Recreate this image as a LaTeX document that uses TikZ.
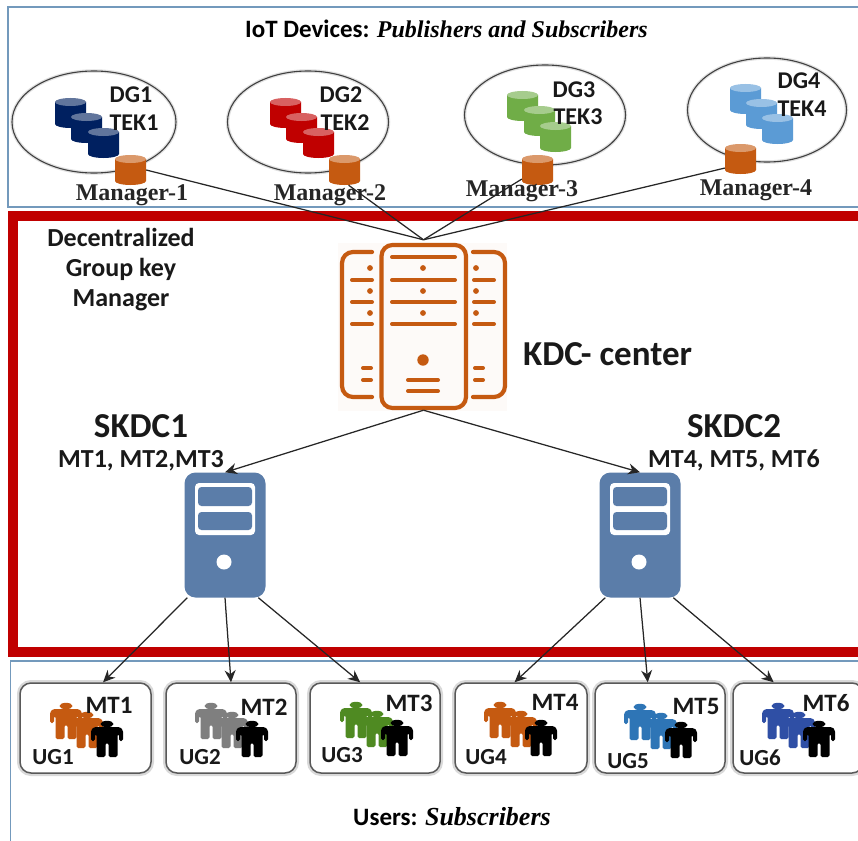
\documentclass[tikz,border=0pt]{standalone}
\usepackage{fontspec}
\setmainfont{Carlito}
\newfontfamily\serf{Liberation Serif}
\usetikzlibrary{shapes.geometric,arrows.meta}
\definecolor{frameblue}{HTML}{7399BC}
\definecolor{framered}{HTML}{C00000}
\definecolor{burnt}{HTML}{C55A11}
\definecolor{srv}{HTML}{5B7DA9}
\definecolor{navy}{HTML}{002060}
\definecolor{grn}{HTML}{70AD47}
\definecolor{lblue}{HTML}{5B9BD5}
\definecolor{grp}{HTML}{7F7F7F}
\definecolor{dgreen}{HTML}{4F8A22}
\definecolor{mblue}{HTML}{2E75B6}
\definecolor{dblue}{HTML}{2F4FA5}
\newcommand\fs[1]{\fontsize{#1}{#1}\selectfont}
% cylinder: name, left, top, colour
\newcommand\cyl[4]{%
  \fill[#4] (#2,#3+4) -- (#2,#3+26) arc[start angle=180,end angle=0,x radius=15.5,y radius=4] -- (#2+31,#3+4) -- cycle;
  \fill[#4!62!white] (#2+15.5,#3+4) ellipse[x radius=15.5,y radius=4];
  \node[cylbox] (#1) at (#2+15.5,#3+15) {};
}
% person: left, top, colour
\newcommand\person[3]{%
  \begin{scope}[shift={(#1,#2)}]
  \fill[#3] (16,3) ellipse[x radius=6.5,y radius=3.2];
  \fill[#3,rounded corners=1.6pt] (0,20)--(0,9)--(3,6)--(29,6)--(32,9)--(32,20)--(28,20)--(28,13)--(26.5,13)--(26.5,36)--(17.5,36)--(17.5,22)--(14.5,22)--(14.5,36)--(5.5,36)--(5.5,13)--(4,13)--(4,20)--cycle;
  \end{scope}
}
\newcommand\grp[3]{\person{#1}{#2}{#3}\person{#1+21}{#2+9}{#3}\person{#1+41}{#2+18}{black}}
% server: name, centre x
\newcommand\servericon[2]{%
  \node[srvbox] (#1) at (#2,535) {};
  \fill[white,rounded corners=4pt] (#2-30,483) rectangle (#2+30,535);
  \fill[srv,rounded corners=3.5pt] (#2-27,487) rectangle (#2+27,506);
  \fill[srv,rounded corners=3.5pt] (#2-27,512) rectangle (#2+27,530);
  \fill[white] (#2-1,562) circle[radius=7.5];
}
\tikzset{
  x=1pt,y=-1pt,
  outerbox/.style={draw=frameblue,line width=1.3pt},
  cylbox/.style={rectangle,minimum width=31pt,minimum height=30pt,inner sep=0pt},
  srvbox/.style={rectangle,fill=srv,rounded corners=11pt,minimum width=81pt,minimum height=125pt,inner sep=0pt},
  oval/.style={ellipse,draw=black!75,line width=1.1pt,inner sep=0pt,preaction={draw=black!12,line width=3.5pt}},
  ugbox/.style={rectangle,draw=black!65,line width=1.5pt,rounded corners=11pt,fill=white,minimum height=90pt,inner sep=0pt,preaction={draw=black!15,line width=6pt}},
  link/.style={draw=black!85,line width=1.25pt},
  arrowlink/.style={link,-{Stealth[length=12pt,width=11pt]}},
  lab/.style={font=\bfseries\fs{24},text=black!90,inner sep=0pt},
  big/.style={font=\bfseries\fs{35},text=black!90,inner sep=0pt},
  mgr/.style={font=\serf\bfseries\fs{24},text=black!85,inner sep=0pt},
  head/.style={font=\bfseries\fs{25},text=black,inner sep=0pt},
  ic/.style={draw=burnt,line width=4.2pt,line cap=round},
  icthin/.style={draw=burnt,line width=4pt,line cap=round},
}
\begin{document}
\begin{tikzpicture}
\useasboundingbox (0,0) rectangle (858,840);
\clip (0,0) rectangle (858,840);
\fill[white] (0,0) rectangle (858,840);
% outer frames
\draw[outerbox] (8,7) rectangle (870,207);
\draw[outerbox] (10.5,661) rectangle (870,850);
\draw[draw=framered,line width=10pt] (13,216) rectangle (880,652);
% ellipses
\node[oval,minimum width=164pt,minimum height=102pt] (e1) at (94,122) {};
\node[oval,minimum width=161pt,minimum height=102pt] (e2) at (308,122) {};
\node[oval,minimum width=161pt,minimum height=100pt] (e3) at (545,115) {};
\node[oval,minimum width=159pt,minimum height=104pt] (e4) at (767,110) {};
% data groups
\cyl{a1}{55}{98}{navy}\cyl{a2}{71}{113}{navy}\cyl{a3}{88}{128}{navy}
\cyl{b1}{270}{98}{framered}\cyl{b2}{286}{113}{framered}\cyl{b3}{303}{128}{framered}
\cyl{c1}{507}{91}{grn}\cyl{c2}{524}{106}{grn}\cyl{c3}{540}{122}{grn}
\cyl{d1}{730}{84}{lblue}\cyl{d2}{746}{99}{lblue}\cyl{d3}{762}{114}{lblue}
% managers
\cyl{m1}{115}{155}{burnt}\cyl{m2}{329}{155}{burnt}\cyl{m3}{522}{155}{burnt}\cyl{m4}{725}{144}{burnt}
% KDC icon
\fill[burnt!3] (338,243) rectangle (507,411);
\node[rectangle,minimum width=87pt,minimum height=170pt,inner sep=0pt] (kdc) at (423.5,325) {};
\draw[ic,rounded corners=11pt] (381.5,245) rectangle (466,408);
\foreach \yy in {257,280,302,324} \draw[icthin] (392,\yy) -- (455,\yy);
\foreach \yy in {268,291,313} {\fill[burnt] (423,\yy) circle[radius=2.9];\fill[burnt] (370,\yy) circle[radius=2.9];\fill[burnt] (476,\yy) circle[radius=2.9];}
\fill[burnt] (423,360) circle[radius=5.7];
\draw[icthin] (408,380) -- (438,380); \draw[icthin] (408,391) -- (438,391);
\draw[ic,rounded corners=11pt] (372,252) -- (342,252) -- (342,397) -- (372,397);
\draw[ic,rounded corners=11pt] (473,252) -- (505,252) -- (505,397) -- (473,397);
\foreach \yy in {280,302,324} {\draw[icthin] (352,\yy) -- (372,\yy);\draw[icthin] (474,\yy) -- (494,\yy);}
\foreach \yy in {368,380} {\draw[icthin] (363,\yy) -- (371,\yy);\draw[icthin] (475,\yy) -- (483,\yy);}
% servers
\servericon{s1}{225}
\servericon{s2}{640}
% user groups
\node[ugbox,minimum width=131pt] (u1) at (85.5,728) {};
\node[ugbox,minimum width=130pt] (u2) at (231,728) {};
\node[ugbox,minimum width=130pt] (u3) at (375,728) {};
\node[ugbox,minimum width=132pt] (u4) at (521,728) {};
\node[ugbox,minimum width=130pt] (u5) at (660,728) {};
\node[ugbox,minimum width=130pt] (u6) at (798,728) {};
\grp{50}{703}{burnt}
\grp{195}{703}{grp}
\grp{340}{702}{dgreen}
\grp{484}{702}{burnt}
\grp{624}{704}{mblue}
\grp{762}{703}{dblue}
% connectors
\draw[link] (m1.east) -- (kdc.north);
\draw[link] (m2.-75) -- (kdc.north);
\draw[link] (m3.-150) -- (kdc.north);
\draw[link] (m4.-150) -- (kdc.north);
\draw[arrowlink] (kdc.south) -- (s1.north);
\draw[arrowlink] (kdc.south) -- (s2.north);
\draw[arrowlink] (s1.-121) -- (u1.69);
\draw[arrowlink] (s1.south) -- (u2.north);
\draw[arrowlink] (s1.-62) -- (u3.108);
\draw[arrowlink] (s2.-119) -- (u4.98);
\draw[arrowlink] (s2.south) -- (u5.105);
\draw[arrowlink] (s2.-62) -- (u6.118);
% texts
\node[head,anchor=west] (t1) at (245,29) {IoT Devices: {\serf\itshape\bfseries\fs{24}Publishers and Subscribers}};
\node[head,anchor=west] (t2) at (353,817) {Users: {\serf\itshape\bfseries\fs{26}Subscribers}};
\node[lab] (t3) at (131,95) {DG1};
\node[lab] (t4) at (134,123) {TEK1};
\node[lab] (t5) at (341,95) {DG2};
\node[lab] (t6) at (345,123) {TEK2};
\node[lab] (t8) at (799,81) {DG4};
\node[lab] (t9) at (802,109) {TEK4};
\node[lab] (t10) at (574,90) {DG3};
\node[lab] (t11) at (578,117) {TEK3};
\node[mgr] (l1) at (132,195) {Manager-1};
\node[mgr] (l2) at (330,195) {Manager-2};
\node[mgr] (l3) at (522,191) {Manager-3};
\node[mgr] (l4) at (756,190) {Manager-4};
\node[lab,font=\bfseries\fs{26}] (g1) at (121,237) {Decentralized};
\node[lab,font=\bfseries\fs{26}] (g2) at (121,269) {Group key};
\node[lab,font=\bfseries\fs{26}] (g3) at (121,300) {Manager};
\node[big,anchor=west] (k) at (523,354) {KDC- center};
\node[big] (k1) at (141,426) {SKDC1};
\node[big] (k2) at (734,426) {SKDC2};
\node[lab,font=\bfseries\fs{26},anchor=west] (k3) at (58,461) {MT1, MT2,MT3};
\node[lab,font=\bfseries\fs{26},anchor=west] (k4) at (648,460) {MT4, MT5, MT6};
\node[lab,font=\bfseries\fs{25}] (q1) at (109,705) {MT1};
\node[lab,font=\bfseries\fs{25}] (q2) at (264,707) {MT2};
\node[lab,font=\bfseries\fs{25}] (q3) at (409,703) {MT3};
\node[lab,font=\bfseries\fs{25}] (q4) at (555,702) {MT4};
\node[lab,font=\bfseries\fs{25}] (q5) at (696,706) {MT5};
\node[lab,font=\bfseries\fs{25}] (q6) at (826,703) {MT6};
\node[lab,font=\bfseries\fs{23}] (r1) at (53,757) {UG1};
\node[lab,font=\bfseries\fs{23}] (r2) at (200,757) {UG2};
\node[lab,font=\bfseries\fs{23}] (r3) at (342,755) {UG3};
\node[lab,font=\bfseries\fs{23}] (r4) at (486,757) {UG4};
\node[lab,font=\bfseries\fs{23}] (r5) at (628,761) {UG5};
\node[lab,font=\bfseries\fs{23}] (r6) at (760,758) {UG6};
\end{tikzpicture}
\end{document}
